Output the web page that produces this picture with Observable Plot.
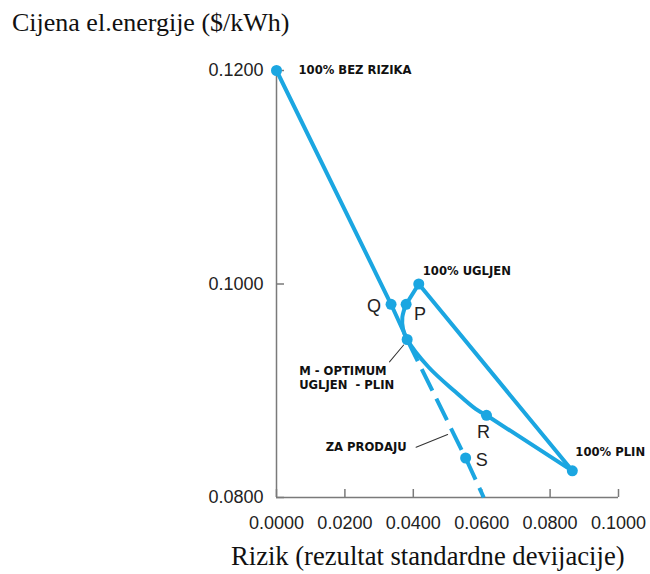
<!DOCTYPE html>
<html>
<head>
<meta charset="utf-8">
<script src="https://cdn.jsdelivr.net/npm/d3@7"></script>
<script src="https://cdn.jsdelivr.net/npm/@observablehq/plot@0.6"></script>
<style>
  body { margin: 0; background: #fff; }
  #wrap { position: relative; width: 650px; height: 574px; overflow: hidden; }
  #wrap svg { position: absolute; left: 0; top: 0; }
  .ttl { position: absolute; font-family: "Liberation Serif", "Times New Roman", serif; line-height: 1; color: #111; white-space: nowrap; }
</style>
</head>
<body>
<div id="wrap">
  <div class="ttl" id="ytitle" style="left:12px; top:10px; font-size:26px;">Cijena el.energije ($/kWh)</div>
  <div class="ttl" id="xtitle" style="left:231px; top:543px; font-size:26.6px;">Rizik (rezultat standardne devijacije)</div>
</div>
<script>
// ---- data ----
const pointNames = ["100% BEZ RIZIKA", "Q", "P", "100% UGLJEN", "M", "R", "S", "100% PLIN"];
const pointRisk  = [0.0000, 0.0335, 0.0379, 0.0416, 0.0382, 0.0614, 0.0553, 0.0865];
const pointPrice = [0.1200, 0.0981, 0.0981, 0.1000, 0.0948, 0.0877, 0.0837, 0.0825];

// curved part of the coal–gas frontier (P → M → R)
const frontierRisk  = [0.0379, 0.0368, 0.0370, 0.0382, 0.0445, 0.0523, 0.0582, 0.0614];
const frontierPrice = [0.0981, 0.0969, 0.0958, 0.0948, 0.0922, 0.0899, 0.0883, 0.0877];

// end of the dashed "za prodaju" extension on the x axis
const dashEndRisk = 0.0606;
const dashEndPrice = 0.0800;

const xTicks = [0, 0.02, 0.04, 0.06, 0.08, 0.10];
const yTicks = [0.08, 0.10, 0.12];

// ---- build tables ----
const pts = pointNames.map((name, i) => ({name, x: pointRisk[i], y: pointPrice[i]}));
const P = Object.fromEntries(pts.map(d => [d.name, d]));
const frontier = frontierRisk.map((x, i) => ({x, y: frontierPrice[i]}));

const straightSegs = [
  {z: "a", ...P["100% UGLJEN"]}, {z: "a", ...P["P"]},
  {z: "b", ...P["R"]}, {z: "b", ...P["100% PLIN"]},
  {z: "c", ...P["100% UGLJEN"]}, {z: "c", ...P["100% PLIN"]}
];
const cmlSolid = [P["100% BEZ RIZIKA"], P["Q"], P["M"]];
const cmlDashed = [P["M"], P["S"], {x: dashEndRisk, y: dashEndPrice}];

const blue = "#1ba6e1";
const grey = "#7a7a7a";
const sans = "Liberation Sans, Arial, sans-serif";
const bold = "DejaVu Sans, Verdana, sans-serif";
const annSize = 11.6;

const lineShape = { draw(ctx, l) { ctx.moveTo(0, 0); ctx.lineTo(0, -l); } };

const chart = Plot.plot({
  width: 650,
  height: 574,
  marginLeft: 276,
  marginRight: 32,
  marginTop: 70,
  marginBottom: 77,
  style: {background: "transparent", overflow: "visible"},
  x: {domain: [0, 0.1]},
  y: {domain: [0.08, 0.12]},
  marks: [
    Plot.ruleX([0], {stroke: grey, strokeWidth: 1.5}),
    Plot.ruleY([0.08], {stroke: grey, strokeWidth: 1.5}),
    Plot.axisX({ticks: xTicks, tickFormat: d3.format(".4f"), tickSize: -8, tickPadding: 27,
      stroke: grey, strokeWidth: 1.5, fill: "#222", fontSize: 18, fontFamily: sans, label: null}),
    Plot.axisY({ticks: yTicks, tickFormat: d3.format(".4f"), tickSize: -8, tickPadding: 21,
      stroke: grey, strokeWidth: 1.5, fill: "#222", fontSize: 18, fontFamily: sans, label: null}),
    // lines
    Plot.line(straightSegs, {x: "x", y: "y", z: "z", stroke: blue, strokeWidth: 4, strokeLinejoin: "round", strokeLinecap: "round"}),
    Plot.line(frontier, {x: "x", y: "y", curve: "catmull-rom", stroke: blue, strokeWidth: 4, strokeLinecap: "round"}),
    Plot.line(cmlSolid, {x: "x", y: "y", stroke: blue, strokeWidth: 4, strokeLinecap: "butt"}),
    Plot.line(cmlDashed, {x: "x", y: "y", stroke: blue, strokeWidth: 4, strokeDasharray: "24,9", strokeLinecap: "butt"}),
    // leader lines
    Plot.vector([P["M"]], {x: "x", y: "y", anchor: "start", length: 22, rotate: 220, dx: -3.5, dy: 5.5,
      shape: lineShape, stroke: "#333", strokeWidth: 1}),
    Plot.vector([P["S"]], {x: "x", y: "y", anchor: "start", length: 34, rotate: 248, dx: -18, dy: -23.5,
      shape: lineShape, stroke: "#333", strokeWidth: 1}),
    // dots
    Plot.dot(pts, {x: "x", y: "y", r: 5.5, fill: blue}),
    // letter labels
    Plot.text([P["Q"]], {x: "x", y: "y", text: "name", dx: -17, dy: 2, fontSize: 18, fontFamily: sans, fill: "#222"}),
    Plot.text([P["P"]], {x: "x", y: "y", text: "name", dx: 14, dy: 10, fontSize: 18, fontFamily: sans, fill: "#222"}),
    Plot.text([P["R"]], {x: "x", y: "y", text: "name", dx: -3, dy: 17, fontSize: 18, fontFamily: sans, fill: "#222"}),
    Plot.text([P["S"]], {x: "x", y: "y", text: "name", dx: 16, dy: 2, fontSize: 18, fontFamily: sans, fill: "#222"}),
    // bold annotations
    Plot.text([P["100% BEZ RIZIKA"]], {x: "x", y: "y", text: "name", textAnchor: "start", dx: 22, dy: 0,
      fontSize: annSize, fontWeight: "bold", fontFamily: bold, fill: "#111"}),
    Plot.text([P["100% UGLJEN"]], {x: "x", y: "y", text: "name", textAnchor: "start", dx: 4, dy: -13,
      fontSize: annSize, fontWeight: "bold", fontFamily: bold, fill: "#111"}),
    Plot.text([P["100% PLIN"]], {x: "x", y: "y", text: "name", textAnchor: "start", dx: 3, dy: -19,
      fontSize: annSize, fontWeight: "bold", fontFamily: bold, fill: "#111"}),
    Plot.text([P["M"]], {x: "x", y: "y", text: () => "M - OPTIMUM\nUGLJEN  - PLIN", textAnchor: "start", dx: -108, dy: 38,
      lineHeight: 1.18, fontSize: annSize, fontWeight: "bold", fontFamily: bold, fill: "#111"}),
    Plot.text([P["S"]], {x: "x", y: "y", text: () => "ZA PRODAJU", textAnchor: "start", dx: -140, dy: -11,
      fontSize: annSize, fontWeight: "bold", fontFamily: bold, fill: "#111"})
  ]
});

document.getElementById("wrap").prepend(chart);
</script>
</body>
</html>
